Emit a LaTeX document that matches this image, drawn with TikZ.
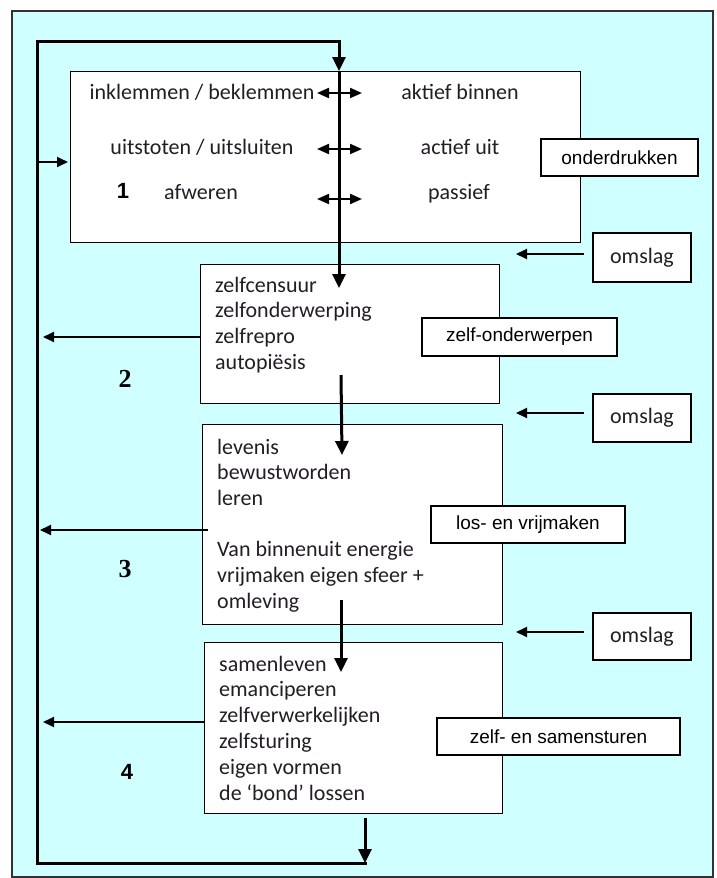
\documentclass[tikz,border=0pt]{standalone}
\usepackage{fontspec}
\setmainfont{Carlito}
\newfontfamily\lblfamily{Liberation Sans}
\newfontfamily\serifnum{Liberation Serif}
\usetikzlibrary{arrows.meta}
\definecolor{bgcyan}{RGB}{208,255,255}
\definecolor{txtcol}{RGB}{35,30,35}
\definecolor{framecol}{RGB}{50,50,50}
\tikzset{
  box/.style={draw=black, fill=white, line width=1.3pt, inner sep=0pt, anchor=north west},
  lbox/.style={draw=black, fill=white, line width=1.3pt, inner sep=0pt, font=\lblfamily\fontsize{19}{22}\selectfont},
  obox/.style={draw=black, fill=white, line width=1.3pt, inner sep=0pt, minimum width=98pt, font=\fontsize{22}{26}\selectfont, text=txtcol},
  txt/.style={inner sep=0pt, font=\fontsize{22}{26}\selectfont, text=txtcol},
  mainarrow/.style={line width=3pt, -{Triangle[length=14pt,width=13pt]}},
  thinarrow/.style={line width=1.8pt, -{Triangle[length=11pt,width=10pt]}},
  dblarrow/.style={line width=2pt, {Triangle[length=12pt,width=10pt]}-{Triangle[length=12pt,width=10pt]}},
  numsans/.style={inner sep=0pt, font=\lblfamily\bfseries\fontsize{22}{26}\selectfont},
  numserif/.style={inner sep=0pt, font=\serifnum\bfseries\fontsize{26}{30}\selectfont},
}
\begin{document}
\begin{tikzpicture}[x=1pt,y=-1pt]
\useasboundingbox (0,0) rectangle (717,878);
\draw[framecol, line width=1.5pt, fill=bgcyan] (12,11) rectangle (713,877);

% main boxes
\node[box, minimum width=510pt, minimum height=171pt] (b1) at (70,71) {};
\node[box, minimum width=299pt, minimum height=139pt] (b2) at (200,264) {};
\node[box, minimum width=300pt, minimum height=200pt] (b3) at (202,424) {};
\node[box, minimum width=298pt, minimum height=171pt] (b4) at (204,642) {};

% loop coordinates
\coordinate (tl) at (37,41);
\coordinate (tr) at (339,41);
\coordinate (bl) at (37,863);
\coordinate (br) at (366.5,863);
\coordinate (a12) at (339,288);
\coordinate (s23) at (341,375);
\coordinate (a23) at (342,455);
\coordinate (s34) at (341,600);
\coordinate (a34) at (341,672);
\coordinate (s4b) at (365,818);
\coordinate (e4b) at (365,863);

\draw[mainarrow] (br) -- (bl) -- (tl) -- (tr) -- (tr |- b1.north);
\draw[mainarrow] (tr |- b1.north) -- (a12);
\draw[mainarrow] (s23) -- (a23);
\draw[mainarrow] (s34) -- (a34);
\draw[mainarrow] (s4b) -- (e4b);

% left arrows
\coordinate (l1s) at (37,162);
\coordinate (l1e) at (68,162);
\coordinate (l2e) at (43,337);
\coordinate (l3s) at (208,530);
\coordinate (l3e) at (40,530);
\coordinate (l4e) at (43,722);
\draw[thinarrow] (l1s) -- (l1e);
\draw[thinarrow] (b2.west |- l2e) -- (l2e);
\draw[thinarrow] (l3s) -- (l3e);
\draw[thinarrow] (b4.west |- l4e) -- (l4e);

% omslag arrows
\coordinate (o1s) at (584,254);
\coordinate (o1e) at (516,254);
\coordinate (o2s) at (584,413);
\coordinate (o2e) at (516,413);
\coordinate (o3s) at (584,632);
\coordinate (o3e) at (516,632);
\draw[thinarrow] (o1s) -- (o1e);
\draw[thinarrow] (o2s) -- (o2e);
\draw[thinarrow] (o3s) -- (o3e);

% double arrows in box 1
\coordinate (d1a) at (317,93);
\coordinate (d1b) at (362,93);
\coordinate (d2a) at (317,149);
\coordinate (d2b) at (362,149);
\coordinate (d3a) at (317,199);
\coordinate (d3b) at (362,199);
\draw[dblarrow] (d1a) -- (d1b);
\draw[dblarrow] (d2a) -- (d2b);
\draw[dblarrow] (d3a) -- (d3b);

% box 1 texts
\node[txt, anchor=base] (r1l) at (202,99) {inklemmen / beklemmen};
\node[txt, anchor=base] (r1r) at (460,99) {aktief binnen};
\node[txt, anchor=base] (r2l) at (202,154) {uitstoten / uitsluiten};
\node[txt, anchor=base] (r2r) at (460,154) {actief uit};
\node[txt, anchor=base] (r3l) at (201,199) {afweren};
\node[txt, anchor=base] (r3r) at (459,199) {passief};

% box texts
\foreach \t [count=\i from 0] in {zelfcensuur, zelfonderwerping, zelfrepro, autopiësis}
  \node[txt, anchor=base west] (b2t\i) at (215, {292+25.7*\i}) {\t};
\foreach \t/\k in {levenis/0, bewustworden/1, leren/2, Van binnenuit energie/4, vrijmaken eigen sfeer +/5, omleving/6}
  \node[txt, anchor=base west] (b3t\k) at (217, {454+25.7*\k}) {\t};
\foreach \t [count=\i from 0] in {samenleven, emanciperen, zelfverwerkelijken, zelfsturing, eigen vormen, de ‘bond’ lossen}
  \node[txt, anchor=base west] (b4t\i) at (219, {671+25.8*\i}) {\t};

% numbers
\node[numsans, anchor=base] (n1) at (123,198) {1};
\node[numserif, anchor=base] (n2) at (125,387) {2};
\node[numserif, anchor=base] (n3) at (125,577) {3};
\node[numsans, anchor=base] (n4) at (127,779) {4};

% label boxes
\node[lbox, minimum width=157pt, minimum height=37pt] (lab1) at (619.5,157.5) {onderdrukken};
\node[obox, minimum height=49pt] (om1) at (642,257.5) {omslag};
\node[lbox, minimum width=195pt, minimum height=38pt] (lab2) at (519.5,337) {zelf-onderwerpen};
\node[obox, minimum height=48pt] (om2) at (642,418) {omslag};
\node[lbox, minimum width=194pt, minimum height=37pt] (lab3) at (528,524.5) {los- en vrijmaken};
\node[obox, minimum height=47pt] (om3) at (642,636.5) {omslag};
\node[lbox, minimum width=243pt, minimum height=37pt] (lab4) at (558.5,736.5) {zelf- en samensturen};
\end{tikzpicture}
\end{document}
